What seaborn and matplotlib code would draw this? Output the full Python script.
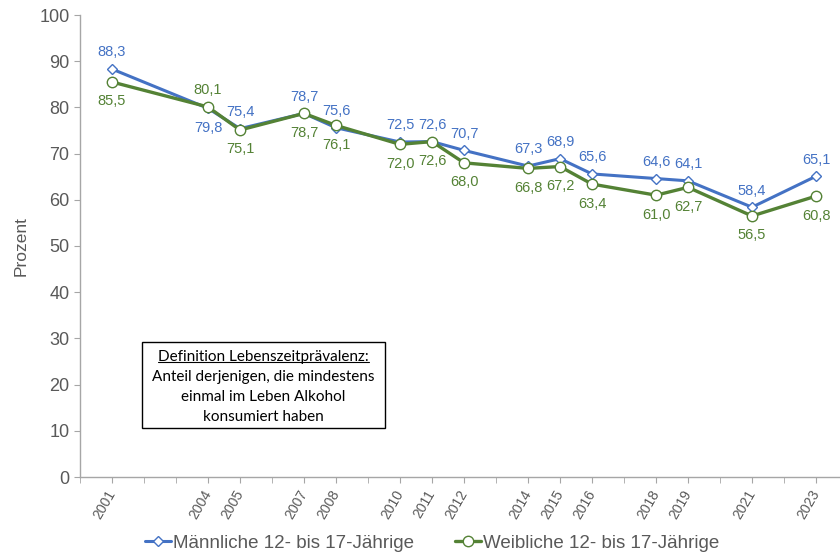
import matplotlib
matplotlib.use("Agg")
import matplotlib.pyplot as plt
import seaborn as sns
import pandas as pd
from matplotlib.lines import Line2D

years = [2001, 2004, 2005, 2007, 2008, 2010, 2011, 2012, 2014, 2015, 2016, 2018, 2019, 2021, 2023]
male = [88.3, 79.8, 75.4, 78.7, 75.6, 72.5, 72.6, 70.7, 67.3, 68.9, 65.6, 64.6, 64.1, 58.4, 65.1]
female = [85.5, 80.1, 75.1, 78.7, 76.1, 72.0, 72.6, 68.0, 66.8, 67.2, 63.4, 61.0, 62.7, 56.5, 60.8]
male_label = "Männliche 12- bis 17-Jährige"
female_label = "Weibliche 12- bis 17-Jährige"
box_lines = ["Definition Lebenszeitprävalenz:", "Anteil derjenigen, die mindestens",
             "einmal im Leben Alkohol", "konsumiert haben"]

sns.set_style("white")
plt.rcParams['font.family'] = ['Liberation Sans', 'DejaVu Sans']

BLUE = "#4472C4"
GREEN = "#548235"
GRAY = "#595959"

fig = plt.figure(figsize=(8.4, 5.56), dpi=100)
ax = fig.add_axes([80/840, 1-477/556, 1-80/840, (477-15)/556])

df = pd.DataFrame({"Jahr": years, "m": male, "w": female})
sns.lineplot(data=df, x="Jahr", y="m", ax=ax, color=BLUE, linewidth=2.2,
             marker="D", markersize=5.5, markerfacecolor="white", markeredgecolor=BLUE,
             markeredgewidth=1.0, label=male_label, legend=False, zorder=3)
sns.lineplot(data=df, x="Jahr", y="w", ax=ax, color=GREEN, linewidth=2.4,
             marker="o", markersize=7.5, markerfacecolor="white", markeredgecolor=GREEN,
             markeredgewidth=1.0, label=female_label, legend=False, zorder=4)

def fmt(v):
    return f"{v:.1f}".replace(".", ",")

for yr, m, w in zip(years, male, female):
    if yr == 2004:
        mo, wo = -14, 12
    else:
        mo, wo = 12, -14
    ax.annotate(fmt(m), (yr, m), xytext=(0, mo), textcoords="offset points",
                ha="center", va="center", color=BLUE, fontsize=10.5)
    ax.annotate(fmt(w), (yr, w), xytext=(0, wo), textcoords="offset points",
                ha="center", va="center", color=GREEN, fontsize=10.5)

ax.set_xlim(2000, 2023.75)
ax.set_ylim(0, 100)
ax.set_yticks(range(0, 101, 10))
ax.set_xticks(range(2000, 2024), minor=True)
ax.set_xticks(years)
ax.set_xticklabels([str(y) for y in years], rotation=60, ha="right", va="center",
                   rotation_mode="anchor", fontsize=10, color=GRAY)
ax.tick_params(axis="y", labelsize=13, labelcolor=GRAY, length=4, color="#A6A6A6", direction="out", left=True)
ax.tick_params(axis="x", which="both", length=4, color="#A6A6A6", direction="out", bottom=True, pad=6)
ax.set_xlabel("")
ax.set_ylabel("Prozent", fontsize=12.5, color=GRAY, labelpad=8)
for s in ["top", "right"]:
    ax.spines[s].set_visible(False)
for s in ["left", "bottom"]:
    ax.spines[s].set_color("#A6A6A6")
    ax.spines[s].set_linewidth(1.0)

# definition box
bx0, by0, bx1, by1 = 142/840, 1-428/556, 385/840, 1-342/556
fig.patches.append(plt.Rectangle((bx0, by0), bx1-bx0, by1-by0, transform=fig.transFigure,
                                 fill=True, facecolor="white", edgecolor="black", linewidth=1.0, zorder=5))
cx = (bx0+bx1)/2
line_ys = [1-357/556, 1-377/556, 1-397/556, 1-417/556]
texts = []
for t, yy in zip(box_lines, line_ys):
    texts.append(fig.text(cx, yy, t, ha="center", va="center", fontsize=11,
                          family=["Lato", "DejaVu Sans"], color="black", zorder=6))
fig.canvas.draw()
bb = texts[0].get_window_extent().transformed(fig.transFigure.inverted())
fig.add_artist(Line2D([bb.x0, bb.x1], [bb.y0+0.003, bb.y0+0.003], color="black", linewidth=0.8,
                      transform=fig.transFigure, zorder=6))

h, l = ax.get_legend_handles_labels()
fig.legend(h, l, loc="center", bbox_to_anchor=(432/840, 1-543/556), ncol=2, frameon=False,
           fontsize=13.5, labelcolor=GRAY, handlelength=1.4, handletextpad=0.1, columnspacing=2.2)

fig.savefig("out.png", dpi=100)
